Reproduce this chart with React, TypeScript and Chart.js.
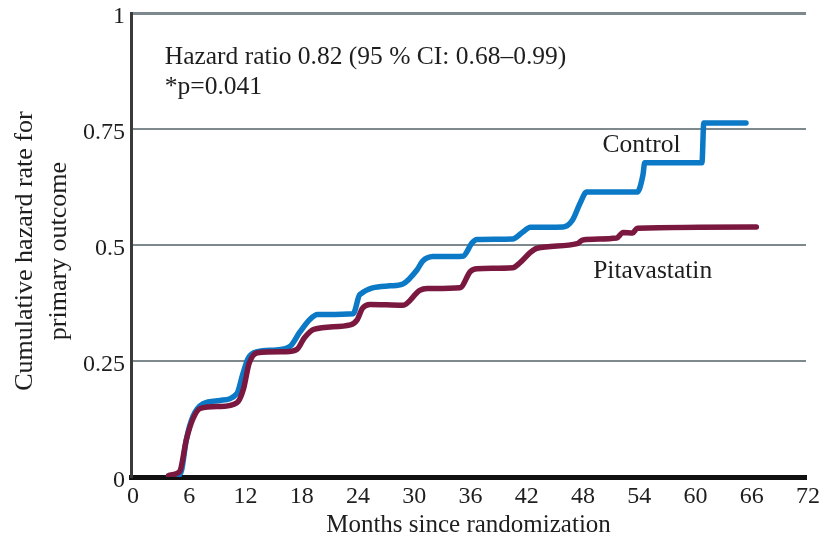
import React, { useEffect, useRef } from 'react';
import { Chart, registerables } from 'chart.js';

Chart.register(...registerables);

const controlMonths = [5.0, 5.4, 5.9, 6.6, 7.7, 9.5, 11.3, 11.9, 12.5, 13.5, 15.5, 17.0, 18.0, 19.1, 19.9, 23.7, 24.4, 27.6, 29.0, 30.5, 31.1, 32.2, 35.4, 36.4, 36.9, 40.7, 41.8, 42.6, 46.1, 47.1, 47.9, 48.6, 54.0, 54.6, 54.8, 60.9, 61.1, 65.6];
const controlRate = [0.0, 0.015, 0.08, 0.13, 0.158, 0.165, 0.18, 0.22, 0.256, 0.27, 0.274, 0.282, 0.312, 0.34, 0.35, 0.352, 0.393, 0.412, 0.416, 0.446, 0.465, 0.475, 0.476, 0.505, 0.512, 0.513, 0.528, 0.538, 0.539, 0.554, 0.59, 0.614, 0.614, 0.65, 0.677, 0.677, 0.763, 0.763];

const pitaMonths = [4.0, 4.4, 5.2, 5.9, 6.6, 7.4, 9.5, 11.3, 12.0, 12.6, 13.5, 16.5, 17.7, 18.5, 19.5, 23.4, 24.1, 24.7, 25.5, 29.0, 30.8, 31.6, 35.1, 36.2, 36.9, 40.7, 41.5, 42.6, 43.3, 47.6, 48.2, 51.8, 52.5, 53.5, 54.0, 66.7];
const pitaRate = [0.003, 0.005, 0.012, 0.08, 0.125, 0.148, 0.152, 0.16, 0.19, 0.245, 0.268, 0.27, 0.275, 0.3, 0.318, 0.328, 0.338, 0.364, 0.372, 0.37, 0.402, 0.406, 0.408, 0.443, 0.449, 0.451, 0.462, 0.484, 0.493, 0.503, 0.511, 0.515, 0.527, 0.526, 0.536, 0.539];

const xMin = 0;
const xMax = 72;
const xStep = 6;
const yTickValues = [0, 0.25, 0.5, 0.75, 1];
const yTickLabels = ['0', '0.25', '0.5', '0.75', '1'];

const xTitle = 'Months since randomization';
const yTitleLines = ['Cumulative hazard rate for', 'primary outcome'];
const hazardText = 'Hazard ratio 0.82 (95 % CI: 0.68\u20130.99)';
const pText = '*p=0.041';
const controlLabel = 'Control';
const pitaLabel = 'Pitavastatin';

const FONT = '"Liberation Serif", "Times New Roman", serif';
const TEXT = '#1e1e1e';

export default function App() {
  const ref = useRef<HTMLCanvasElement>(null);

  useEffect(() => {
    document.body.style.margin = '0';
    const canvas = ref.current;
    if (!canvas) return;

    const textPlugin = {
      id: 'textPlugin',
      afterDraw(chart: any) {
        const { ctx, chartArea } = chart;
        const x = chart.scales.x;
        const y = chart.scales.y;
        ctx.save();
        ctx.fillStyle = TEXT;
        ctx.textBaseline = 'middle';
        ctx.textAlign = 'left';
        ctx.font = `25.5px ${FONT}`;
        ctx.fillText(hazardText, x.getPixelForValue(3.6), y.getPixelForValue(0.905));
        ctx.fillText(pText, x.getPixelForValue(3.6), y.getPixelForValue(0.84));
        ctx.fillText(controlLabel, x.getPixelForValue(50.3), y.getPixelForValue(0.714));
        ctx.fillText(pitaLabel, x.getPixelForValue(49.3), y.getPixelForValue(0.443));

        ctx.font = `26px ${FONT}`;
        ctx.textAlign = 'center';
        const cy = y.getPixelForValue(0.487);
        yTitleLines.forEach((line, i) => {
          ctx.save();
          ctx.translate(chartArea.left - 106 + i * 34, cy);
          ctx.rotate(-Math.PI / 2);
          ctx.fillText(line, 0, 0);
          ctx.restore();
        });
        ctx.restore();
      },
    };

    const chart = new Chart(canvas, {
      type: 'line',
      data: {
        datasets: [
          {
            label: pitaLabel,
            data: pitaMonths.map((m, i) => ({ x: m, y: pitaRate[i] })),
            borderColor: '#7a1840',
            borderWidth: 5.5,
            pointRadius: 0,
            cubicInterpolationMode: 'monotone',
            borderCapStyle: 'round',
            borderJoinStyle: 'round',
            fill: false,
          },
          {
            label: controlLabel,
            data: controlMonths.map((m, i) => ({ x: m, y: controlRate[i] })),
            borderColor: '#0b79c6',
            borderWidth: 5.5,
            pointRadius: 0,
            cubicInterpolationMode: 'monotone',
            borderCapStyle: 'round',
            borderJoinStyle: 'round',
            fill: false,
          },
        ],
      },
      options: {
        animation: false,
        responsive: false,
        maintainAspectRatio: false,
        layout: { padding: { top: 13, right: 14, left: 0, bottom: 0 } },
        plugins: {
          legend: { display: false },
          tooltip: { enabled: false },
        },
        scales: {
          x: {
            type: 'linear',
            min: xMin,
            max: xMax,
            ticks: {
              stepSize: xStep,
              color: TEXT,
              font: { family: FONT, size: 24 },
              padding: 5,
              labelOffset: 2,
              maxRotation: 0,
              autoSkip: false,
            },
            grid: { display: false, drawTicks: false },
            border: { display: true, color: '#111111', width: 5 },
            title: {
              display: true,
              text: xTitle,
              color: TEXT,
              font: { family: FONT, size: 25 },
              padding: { top: 0, bottom: 4 },
            },
            afterFit: (s: any) => {
              s.height = 67;
              s.paddingLeft = 0;
              s.paddingRight = 0;
            },
          },
          y: {
            type: 'linear',
            min: 0,
            max: 1,
            afterBuildTicks: (s: any) => {
              s.ticks = yTickValues.map((v) => ({ value: v }));
            },
            ticks: {
              color: TEXT,
              font: { family: FONT, size: 24 },
              padding: 6,
              labelOffset: 4,
              callback: (v: any) => {
                const i = yTickValues.indexOf(Number(v));
                return i >= 0 ? yTickLabels[i] : '';
              },
            },
            grid: {
              drawTicks: false,
              lineWidth: (c: any) => (c.tick && c.tick.value === 1 ? 3 : 2),
              color: (c: any) => (c.tick && c.tick.value === 0 ? 'rgba(0,0,0,0)' : '#7d898d'),
            },
            border: { display: true, color: '#3a3a3a', width: 3 },
            afterFit: (s: any) => {
              s.width = 131;
              s.paddingTop = 0;
              s.paddingBottom = 0;
            },
          },
        },
      },
      plugins: [textPlugin],
    } as any);

    return () => chart.destroy();
  }, []);

  return (
    <div style={{ position: 'absolute', left: 0, top: 0, width: 820, height: 544, background: '#ffffff' }}>
      <canvas ref={ref} width={820} height={544} style={{ display: 'block', width: 820, height: 544 }} />
    </div>
  );
}
